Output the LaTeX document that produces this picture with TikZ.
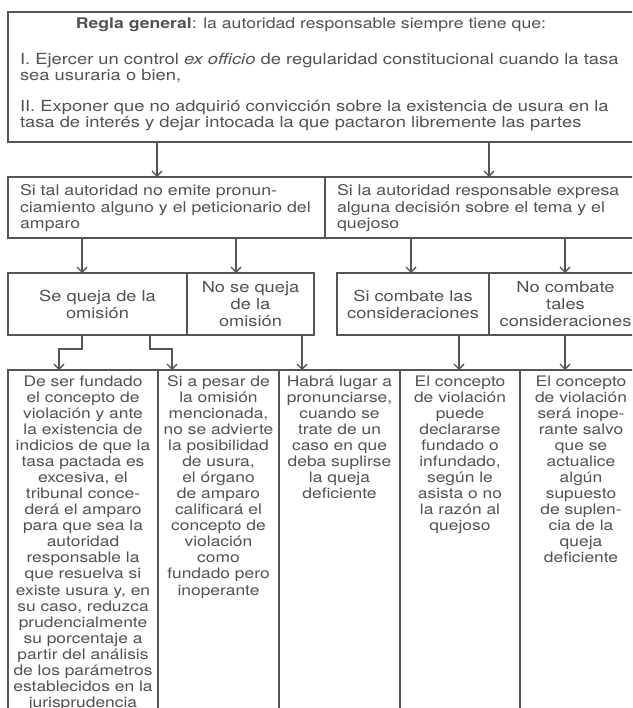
\documentclass[tikz,border=0pt]{standalone}
\usepackage{fontspec}
\setmainfont{TeX Gyre Heros}[FakeStretch=1.2]
\usetikzlibrary{arrows.meta}
\definecolor{textcol}{HTML}{525252}
\definecolor{linecol}{HTML}{555555}
\newcommand\ftitle{\fontsize{14.7}{16}\selectfont}
\newcommand\ftop{\fontsize{15.3}{16}\selectfont}
\newcommand\frow{\fontsize{14.8}{16.7}\selectfont}
\newcommand\fmid{\fontsize{15.2}{17}\selectfont}
\newcommand\fcol{\fontsize{14.5}{16.08}\selectfont}
\begin{document}
\begin{tikzpicture}[x=1pt,y=-1pt,
  box/.style={draw=linecol, line width=1.3pt, rectangle, inner sep=0pt, outer sep=0pt,
    anchor=north west, text=textcol, font=\fmid, align=center},
  txt/.style={text=textcol, inner sep=0pt, outer sep=0pt},
  arr/.style={draw=linecol, line width=1.3pt, -{Straight Barb[length=5pt,width=10pt]}}]
\useasboundingbox (0,0) rectangle (632,708);
\clip (0,0) rectangle (632,708);
\fill[white] (0,0) rectangle (632,708);

% ---- boxes
\node[box, minimum width=635pt, minimum height=130pt] (top) at (8,12) {};
\node[box, minimum width=317pt, minimum height=61pt] (r2l) at (8,177) {};
\node[box, minimum width=317pt, minimum height=61pt] (r2r) at (325,177) {};
\node[box, minimum width=179pt, minimum height=62pt] (r3a) at (8,273) {Se queja de la\\omisión};
\node[box, minimum width=127pt, minimum height=62pt] (r3b) at (187,273) {No se queja\\de la\\omisión};
\node[box, minimum width=152pt, minimum height=62pt] (r3c) at (337,273) {Si combate las\\consideraciones};
\node[box, minimum width=153pt, minimum height=62pt] (r3d) at (489,273) {No combate\\tales\\consideraciones};
\node[box, minimum width=150pt, minimum height=345pt] (c1) at (8,370) {};
\node[box, minimum width=121pt, minimum height=345pt] (c2) at (158,370) {};
\node[box, minimum width=121pt, minimum height=345pt] (c3) at (279,370) {};
\node[box, minimum width=120pt, minimum height=345pt] (c4) at (400,370) {};
\node[box, minimum width=122pt, minimum height=345pt] (c5) at (520,370) {};

% ---- texts
\node[txt, anchor=base, font=\ftitle] (title) at (311,29)
  {\textbf{Regla general}: la autoridad responsable siempre tiene que:};
\node[txt, anchor=north west, text width=611pt, align=left, font=\ftop] (rules) at (20,53.8)
  {\makebox[611pt][s]{\strut I. Ejercer un control \textit{ex officio} de regularidad constitucional cuando la tasa}\\
   sea usuraria o bien,\\[14.5pt]
   \makebox[611pt][s]{II. Exponer que no adquirió convicción sobre la existencia de usura en la}\\
   tasa de interés y dejar intocada la que pactaron libremente las partes};
\node[txt, anchor=north west, text width=293pt, align=left, font=\frow] (r2ltxt) at (20,183.9)
  {\makebox[293pt][s]{\strut Si tal autoridad no emite pronun-}\\
   \makebox[293pt][s]{ciamiento alguno y el peticionario del}\\
   amparo};
\node[txt, anchor=north west, text width=293pt, align=left, font=\frow] (r2rtxt) at (337,183.9)
  {\makebox[293pt][s]{\strut Si la autoridad responsable expresa}\\
   \makebox[293pt][s]{alguna decisión sobre el tema y el}\\
   quejoso};

\node[txt, anchor=north, align=center, font=\fcol] (t1) at (83,374.74)
  {\strut De ser fundado\\el concepto de\\violación y ante\\la existencia de\\indicios de que la\\tasa pactada es\\excesiva, el\\tribunal conce-\\derá el amparo\\para que sea la\\autoridad\\responsable la\\que resuelva si\\existe usura y, en\\su caso, reduzca\\prudencialmente\\su porcentaje a\\partir del análisis\\de los parámetros\\establecidos en la\\jurisprudencia};
\node[txt, anchor=north, align=center, font=\fcol] (t2) at (218.5,374.74)
  {\strut Si a pesar de\\la omisión\\mencionada,\\no se advierte\\la posibilidad\\de usura,\\el órgano\\de amparo\\calificará el\\concepto de\\violación\\como\\fundado pero\\inoperante};
\node[txt, anchor=north, align=center, font=\fcol] (t3) at (339.5,374.74)
  {\strut Habrá lugar a\\pronunciarse,\\cuando se\\trate de un\\caso en que\\deba suplirse\\la queja\\deficiente};
\node[txt, anchor=north, align=center, font=\fcol] (t4) at (460,374.74)
  {\strut El concepto\\de violación\\puede\\declararse\\fundado o\\infundado,\\según le\\asista o no\\la razón al\\quejoso};
\node[txt, anchor=north, align=center, font=\fcol] (t5) at (581,374.74)
  {\strut El concepto\\de violación\\será inope-\\rante salvo\\que se\\actualice\\algún\\supuesto\\de suplen-\\cia de la\\queja\\deficiente};

% ---- connectors
\coordinate (a1) at (157,0);
\coordinate (a2) at (489,0);
\coordinate (b1) at (82,0);
\coordinate (b2) at (236,0);
\coordinate (b3) at (411,0);
\coordinate (b4) at (565,0);
\coordinate (s2) at (150,0);
\coordinate (k1) at (59,349);
\coordinate (k2) at (172,349);
\coordinate (d3) at (302,0);
\coordinate (d4) at (459,0);
\coordinate (d5) at (565,0);

\draw[arr] (top.south -| a1) -- (r2l.north -| a1);
\draw[arr] (top.south -| a2) -- (r2r.north -| a2);
\draw[arr] (r2l.south -| b1) -- (r3a.north -| b1);
\draw[arr] (r2l.south -| b2) -- (r3b.north -| b2);
\draw[arr] (r2r.south -| b3) -- (r3c.north -| b3);
\draw[arr] (r2r.south -| b4) -- (r3d.north -| b4);
\draw[arr] (r3a.south -| b1) |- (k1) -- (c1.north -| k1);
\draw[arr] (r3a.south -| s2) |- (k2) -- (c2.north -| k2);
\draw[arr] (r3b.south -| d3) -- (c3.north -| d3);
\draw[arr] (r3c.south -| d4) -- (c4.north -| d4);
\draw[arr] (r3d.south -| d5) -- (c5.north -| d5);
\end{tikzpicture}
\end{document}
